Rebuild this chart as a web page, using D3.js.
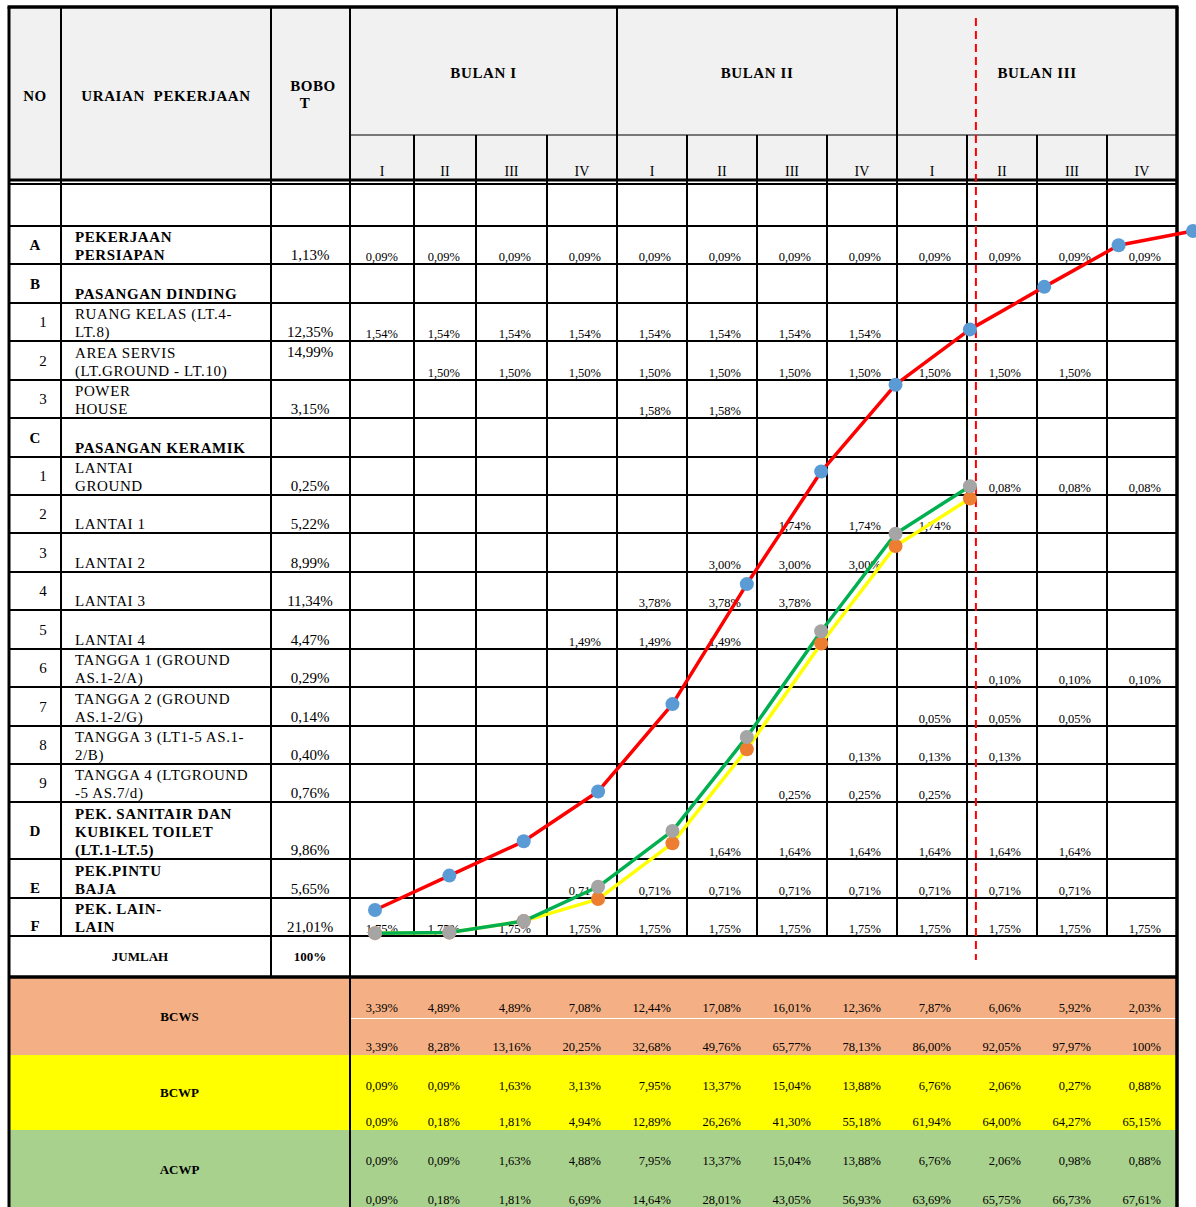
<!DOCTYPE html>
<html>
<head>
<meta charset="utf-8">
<script src="https://cdn.jsdelivr.net/npm/d3@7"></script>
<style>
  body { margin: 0; background: #fff; }
  svg { display: block; }
  text { font-family: "Liberation Serif", "Times New Roman", serif; fill: #000; }
</style>
</head>
<body>
<svg id="chart" width="1196" height="1207"></svg>
<script>
// ---- Schedule data (Kurva S) ----
const months = ["BULAN I", "BULAN II", "BULAN III"];
const weekLabels = ["I", "II", "III", "IV"];
const weekKeys = d3.range(1, 13);

const itemNo = ["", "A", "B", "1", "2", "3", "C", "1", "2", "3", "4", "5", "6", "7", "8", "9", "D", "E", "F"];
const itemDesc = [
  [], ["PEKERJAAN", "PERSIAPAN"], ["PASANGAN DINDING"], ["RUANG KELAS (LT.4-", "LT.8)"],
  ["AREA SERVIS", "(LT.GROUND - LT.10)"], ["POWER", "HOUSE"], ["PASANGAN KERAMIK"],
  ["LANTAI", "GROUND"], ["LANTAI 1"], ["LANTAI 2"], ["LANTAI 3"], ["LANTAI 4"],
  ["TANGGA 1 (GROUND", "AS.1-2/A)"], ["TANGGA 2 (GROUND", "AS.1-2/G)"],
  ["TANGGA 3 (LT1-5 AS.1-", "2/B)"], ["TANGGA 4 (LTGROUND", "-5 AS.7/d)"],
  ["PEK. SANITAIR DAN", "KUBIKEL TOILET", "(LT.1-LT.5)"], ["PEK.PINTU", "BAJA"], ["PEK. LAIN-", "LAIN"]
];
const itemHeading = [false, true, true, false, false, false, true, false, false, false, false, false, false, false, false, false, true, true, true];
const itemWeight = [null, 1.13, null, 12.35, 14.99, 3.15, null, 0.25, 5.22, 8.99, 11.34, 4.47, 0.29, 0.14, 0.40, 0.76, 9.86, 5.65, 21.01];
// weekly share of each item: first week, last week, share per week
const itemStart = [null, 1, null, 1, 2, 5, null, 10, 7, 6, 5, 4, 10, 9, 8, 7, 6, 4, 1];
const itemEnd   = [null, 12, null, 8, 11, 6, null, 12, 9, 8, 7, 6, 12, 11, 10, 9, 11, 11, 12];
const itemShare = [null, 0.09, null, 1.54, 1.50, 1.58, null, 0.08, 1.74, 3.00, 3.78, 1.49, 0.10, 0.05, 0.13, 0.25, 1.64, 0.71, 1.75];
const totalWeight = 100;

// ---- Earned value rows ----
const bcwsWeekly = [3.39, 4.89, 4.89, 7.08, 12.44, 17.08, 16.01, 12.36, 7.87, 6.06, 5.92, 2.03];
const bcwsCum    = [3.39, 8.28, 13.16, 20.25, 32.68, 49.76, 65.77, 78.13, 86.00, 92.05, 97.97, 100];
const bcwpWeekly = [0.09, 0.09, 1.63, 3.13, 7.95, 13.37, 15.04, 13.88, 6.76, 2.06, 0.27, 0.88];
const bcwpCum    = [0.09, 0.18, 1.81, 4.94, 12.89, 26.26, 41.30, 55.18, 61.94, 64.00, 64.27, 65.15];
const acwpWeekly = [0.09, 0.09, 1.63, 4.88, 7.95, 13.37, 15.04, 13.88, 6.76, 2.06, 0.98, 0.88];
const acwpCum    = [0.09, 0.18, 1.81, 6.69, 14.64, 28.01, 43.05, 56.93, 63.69, 65.75, 66.73, 67.61];
const reportWeek = 9;   // progress reported up to week I of BULAN III

// ---- Formatting (Indonesian decimal comma) ----
const idLocale = d3.formatLocale({ decimal: ",", thousands: ".", grouping: [3], currency: ["Rp", ""] });
const f2 = idLocale.format(".2f");
const pct = v => (v === 100 ? "100%" : f2(v) + "%");

// ---- Layout ----
const svg = d3.select("#chart");
const FONT_VAL = 12.5, FONT_TXT = 15, SPACING = 0.6;
const L = 9, R = 1177, T = 7;
const colNo = [L, 61, 271, 350];
// week column edges (index 0..12)
const colX = d3.scaleLinear().domain(d3.range(0, 13))
  .range([350, 414, 476, 547, 617, 687, 757, 827, 897, 967, 1037, 1107, 1177]);
// body row edges: blank row, items, then JUMLAH
const rowY = d3.scaleLinear().domain(d3.range(0, 21))
  .range([184, 226, 264, 303, 341, 380, 418, 457, 495, 533, 572, 610, 649, 687, 726, 764, 802, 859, 898, 936, 977]);
const headMid = 135, headBot = 180;
const sections = [
  { label: "BCWS", weekly: bcwsWeekly, cum: bcwsCum, fill: "#f4b084", top: 977, bot: 1055, split: true },
  { label: "BCWP", weekly: bcwpWeekly, cum: bcwpCum, fill: "#ffff00", top: 1055, bot: 1130 },
  { label: "ACWP", weekly: acwpWeekly, cum: acwpCum, fill: "#a9d18e", top: 1130, bot: 1208 }
];

// ---- Header ----
const head = svg.append("g");
head.append("rect").attr("x", L).attr("y", T).attr("width", R - L).attr("height", headBot - T).attr("fill", "#f1f1f1");

const headText = (tx, ty, s, size) => head.append("text").attr("x", tx).attr("y", ty)
  .attr("text-anchor", "middle").attr("font-size", size || FONT_TXT).attr("font-weight", "bold")
  .attr("letter-spacing", SPACING).attr("xml:space", "preserve").text(s);
headText(35, 101, "NO");
headText(166, 101, "URAIAN  PEKERJAAN");
headText(313, 91, "BOBO");
headText(305, 108, "T");

months.forEach((m, i) => {
  const x0 = colX(i * 4), x1 = colX(i * 4 + 4);
  headText((x0 + x1) / 2, 78, m);
});
weekKeys.forEach((w, i) => {
  head.append("text").attr("x", (colX(i) + colX(i + 1)) / 2).attr("y", 176).attr("text-anchor", "middle")
    .attr("font-size", 14).text(weekLabels[i % 4]);
});

// ---- Body text ----
const body = svg.append("g");
itemNo.forEach((no, r) => {
  const y0 = rowY(r), y1 = rowY(r + 1), mid = (y0 + y1) / 2;
  if (no) {
    const isLetter = /[A-Z]/.test(no);
    const bottomAligned = no === "E" || no === "F";
    body.append("text")
      .attr("x", isLetter ? 35 : 43)
      .attr("y", bottomAligned ? y1 - 5 : mid + 5)
      .attr("text-anchor", "middle")
      .attr("font-size", FONT_TXT)
      .attr("font-weight", isLetter ? "bold" : "normal")
      .text(no);
  }
  const lines = itemDesc[r];
  lines.forEach((ln, k) => {
    body.append("text")
      .attr("x", 75)
      .attr("y", y1 - 4 - (lines.length - 1 - k) * 18)
      .attr("font-size", FONT_TXT)
      .attr("letter-spacing", SPACING)
      .attr("font-weight", itemHeading[r] ? "bold" : "normal")
      .text(ln);
  });
  if (itemWeight[r] != null) {
    // AREA SERVIS weight sits at the top of its cell
    const topAligned = r === 4;
    body.append("text")
      .attr("x", 310)
      .attr("y", topAligned ? y0 + 16 : y1 - 4)
      .attr("text-anchor", "middle")
      .attr("font-size", FONT_TXT)
      .text(pct(itemWeight[r]));
  }
  if (itemStart[r] != null) {
    d3.range(itemStart[r], itemEnd[r] + 1).forEach(w => {
      body.append("text")
        .attr("x", colX(w) - 16)
        .attr("y", y1 - 3.5)
        .attr("text-anchor", "end")
        .attr("font-size", FONT_VAL)
        .text(pct(itemShare[r]));
    });
  }
});

// JUMLAH row
const jTop = rowY(19), jBot = rowY(20);
body.append("text").attr("x", 140).attr("y", (jTop + jBot) / 2 + 4.5).attr("text-anchor", "middle")
  .attr("font-size", 13).attr("font-weight", "bold").text("JUMLAH");
body.append("text").attr("x", 310).attr("y", (jTop + jBot) / 2 + 4.5).attr("text-anchor", "middle")
  .attr("font-size", 13).attr("font-weight", "bold").text(pct(totalWeight));

// ---- Earned value summary ----
const sum = svg.append("g");
sections.forEach(s => {
  sum.append("rect").attr("x", L).attr("y", s.top).attr("width", R - L).attr("height", s.bot - s.top + 4).attr("fill", s.fill);
  if (s.split) {
    sum.append("line").attr("x1", colX(0)).attr("x2", R).attr("y1", 1018.5).attr("y2", 1018.5)
      .attr("stroke", "#fff").attr("stroke-width", 1);
  }
  sum.append("text").attr("x", (L + colNo[3]) / 2).attr("y", (s.top + s.bot) / 2 + 4.5)
    .attr("text-anchor", "middle").attr("font-size", 13).attr("font-weight", "bold").text(s.label);
  s.weekly.forEach((v, i) => {
    sum.append("text").attr("x", colX(i + 1) - 16).attr("y", s.top + 35)
      .attr("text-anchor", "end").attr("font-size", FONT_VAL).text(pct(v));
  });
  s.cum.forEach((v, i) => {
    sum.append("text").attr("x", colX(i + 1) - 16).attr("y", s.bot - 4)
      .attr("text-anchor", "end").attr("font-size", FONT_VAL).text(pct(v));
  });
});

// ---- Grid lines ----
const grid = svg.append("g").attr("stroke", "#000").attr("fill", "none");
const hLine = (y, x1, x2, w) => grid.append("line").attr("x1", x1).attr("x2", x2).attr("y1", y).attr("y2", y).attr("stroke-width", w);
const vLine = (x, y1, y2, w) => grid.append("line").attr("x1", x).attr("x2", x).attr("y1", y1).attr("y2", y2).attr("stroke-width", w);

// header
hLine(headMid, colX(0), R, 1.2);
vLine(colNo[1], T, rowY(19), 2);
vLine(colNo[2], T, jBot, 2);
vLine(colNo[3], T, 1210, 2);
[4, 8].forEach(i => vLine(colX(i), T, rowY(19), 2));
weekKeys.slice(0, 11).forEach((w, i) => {
  if ((i + 1) % 4 !== 0) vLine(colX(i + 1), headMid, rowY(19), 2);
});
hLine(headBot, L, R, 3);
hLine(headBot + 4, L, R, 2);
// body rows
d3.range(1, 20).forEach(r => hLine(rowY(r), L, R, 2));
hLine(jBot, L, R, 3.5);
// outer frame
hLine(T, L - 1.5, R + 1.5, 3.5);
vLine(L, T, 1210, 3);
vLine(R, T, 1210, 3.5);

// ---- S-curves ----
const x = d3.scalePoint().domain(weekKeys).range([375, 1193]);
const y = d3.scaleLinear().domain([0, 100]).range([933.8, 231]);
const curve = svg.append("g");
const line = d3.line().x((d, i) => x(weekKeys[i])).y(d => y(d));

// progress marker at the reporting date
curve.append("line")
  .attr("x1", x(reportWeek) + 6).attr("x2", x(reportWeek) + 6)
  .attr("y1", 18).attr("y2", 960)
  .attr("stroke", "#ff0000").attr("stroke-width", 2).attr("stroke-dasharray", "8,5");

const series = [
  { data: bcwsCum, stroke: "#ff0000", marker: "#5b9bd5" },
  { data: bcwpCum.slice(0, reportWeek), stroke: "#ffff00", marker: "#ed7d31" },
  { data: acwpCum.slice(0, reportWeek), stroke: "#00b050", marker: "#a5a5a5" }
];
series.forEach(s => {
  curve.append("path").datum(s.data).attr("d", line)
    .attr("fill", "none").attr("stroke", s.stroke).attr("stroke-width", 3.5).attr("stroke-linejoin", "round");
});
series.forEach(s => {
  curve.selectAll(null).data(s.data).enter().append("circle")
    .attr("cx", (d, i) => x(weekKeys[i])).attr("cy", d => y(d)).attr("r", 7)
    .attr("fill", s.marker);
});
</script>
</body>
</html>
